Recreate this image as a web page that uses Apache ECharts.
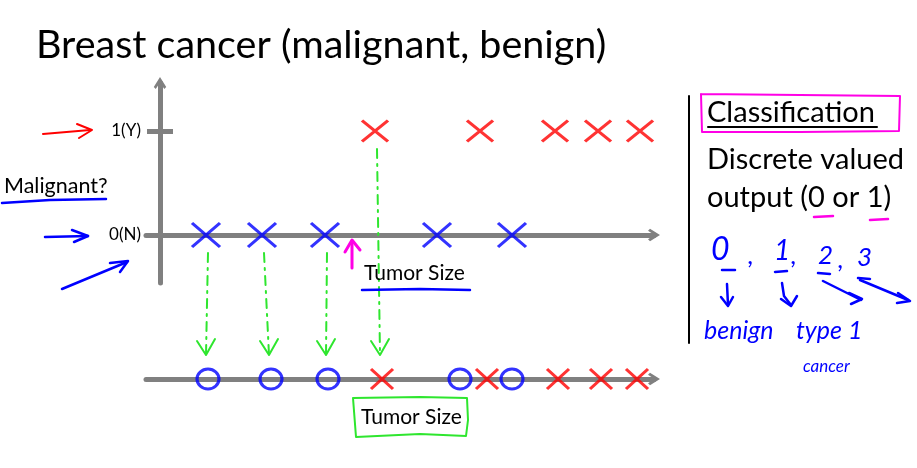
<html>
<head>
<meta charset="UTF-8" />
<script src="https://cdn.jsdelivr.net/npm/echarts@6/dist/echarts.min.js"></script>
<style>
  html, body { margin: 0; padding: 0; background: #fff; }
</style>
</head>
<body>
<div id="container" style="width: 917px; height: 468px"></div>
<script>
// tumor size readings (top chart), y = 0 benign, 1 malignant
var benignTop = [9.2, 20.4, 33, 55.4, 70.4];
var malignantTop = [43, 64, 79, 87.6, 96];
// same tumours re-drawn on the single 1-D axis below
var benignBottom = [9.6, 22.2, 33.6, 60, 70.4];
var malignantBottom = [44.4, 65.4, 79.6, 88.2, 95.4];
var yTickValues = [0, 1];
var yTickLabels = ['0(N)', '1(Y)'];
var thresholdX = 38.4;

var FONT = 'Lato';
var GRAY = '#808080';
var RED = '#ff0000';
var BLUE = '#0000ff';
var GREEN = '#2ee62e';
var PINK = '#ff00e6';

var CROSS = 'path://M0,0L10,10M10,0L0,10';
var CHEVRON = 'path://M5,0L10,8L8.4,9.6L5,4.4L1.6,9.6L0,8Z';

function pts(xs, y) {
    return xs.map(function (x) { return [x, y]; });
}

var chart = echarts.init(document.getElementById('container'));

var option = {
    animation: false,
    title: {
        text: 'Breast cancer (malignant, benign)',
        left: 31, top: 20,
        textStyle: { fontFamily: FONT, fontSize: 39.5, fontWeight: 'normal', color: '#000' }
    },
    grid: [
        { left: 146, right: 263, top: 83, bottom: 185 },
        { left: 146, right: 263, top: 359, bottom: 69 }
    ],
    xAxis: [
        {
            gridIndex: 0, type: 'value', min: -2.8, max: 98.8,
            axisLine: { onZero: true, symbol: ['none', CHEVRON], symbolSize: [18, 12], lineStyle: { color: GRAY, width: 5 } },
            axisTick: { show: false }, axisLabel: { show: false }, splitLine: { show: false }
        },
        {
            gridIndex: 1, type: 'value', min: -2.8, max: 98.8,
            axisLine: { onZero: true, symbol: ['none', CHEVRON], symbolSize: [18, 12], lineStyle: { color: GRAY, width: 5 } },
            axisTick: { show: false }, axisLabel: { show: false }, splitLine: { show: false }
        }
    ],
    yAxis: [
        {
            gridIndex: 0, type: 'value', min: -0.4615, max: 1.4615, position: 'left',
            axisLine: { onZero: true, onZeroAxisIndex: 0, symbol: ['none', CHEVRON], symbolSize: [18, 12], lineStyle: { color: GRAY, width: 5 } },
            axisTick: { show: true, customValues: [1], length: 13, lineStyle: { color: GRAY, width: 5 } },
            axisLabel: {
                customValues: yTickValues, margin: 5,
                fontFamily: FONT, fontSize: 17, color: '#000',
                formatter: function (v) { return yTickLabels[yTickValues.indexOf(v)]; }
            },
            splitLine: { show: false }
        },
        {
            gridIndex: 0, type: 'value', min: -0.4615, max: 1.4615, position: 'right',
            axisLine: { show: false, onZero: true, onZeroAxisIndex: 0 },
            axisTick: { show: true, customValues: [1], length: 13, lineStyle: { color: GRAY, width: 5 } },
            axisLabel: { show: false }, splitLine: { show: false }
        },
        {
            gridIndex: 1, type: 'value', min: -1, max: 1, show: false
        }
    ],
    series: [
        {
            type: 'scatter', xAxisIndex: 0, yAxisIndex: 0, data: pts(benignTop, 0),
            symbol: CROSS, symbolSize: [28, 24],
            itemStyle: { color: 'rgba(0,0,0,0)', borderColor: BLUE, borderWidth: 3 }, z: 5
        },
        {
            type: 'scatter', xAxisIndex: 0, yAxisIndex: 0, data: pts(malignantTop, 1),
            symbol: CROSS, symbolSize: [26, 21],
            itemStyle: { color: 'rgba(0,0,0,0)', borderColor: RED, borderWidth: 3 }, z: 5
        },
        {
            type: 'scatter', xAxisIndex: 1, yAxisIndex: 2, data: pts(benignBottom, 0),
            symbol: 'circle', symbolSize: [22, 20],
            itemStyle: { color: 'rgba(0,0,0,0)', borderColor: BLUE, borderWidth: 3 }, z: 5
        },
        {
            type: 'scatter', xAxisIndex: 1, yAxisIndex: 2, data: pts(malignantBottom, 0),
            symbol: CROSS, symbolSize: [22, 20],
            itemStyle: { color: 'rgba(0,0,0,0)', borderColor: RED, borderWidth: 3 }, z: 5
        }
    ]
};
chart.setOption(option);

// annotations, placed from the data positions
function toPx(seriesIndex, p) {
    return chart.convertToPixel({ seriesIndex: seriesIndex }, p);
}
function stroke(color, w, dash) {
    return { stroke: color, lineWidth: w || 2.5, fill: null, lineDash: dash || null, lineCap: 'round', lineJoin: 'round' };
}
function poly(points, color, w, dash) {
    return { type: 'polyline', shape: { points: points }, style: stroke(color, w, dash), z: 10 };
}
function txt(x, y, s, size, color, extra) {
    var st = { text: s, x: x, y: y, fontFamily: FONT, fontSize: size, fill: color || '#000', textVerticalAlign: 'middle' };
    for (var k in extra) st[k] = extra[k];
    return { type: 'text', style: st, z: 10 };
}

var g = [];
var DASH = [9, 6, 2, 6];

// green projections from the top chart down to the 1-D axis
var proj = [
    [toPx(0, [benignTop[0], 0]), toPx(2, [benignBottom[0], 0])],
    [toPx(0, [benignTop[1], 0]), toPx(2, [benignBottom[1], 0])],
    [toPx(0, [benignTop[2], 0]), toPx(2, [benignBottom[2], 0])],
    [toPx(1, [malignantTop[0], 1]), toPx(3, [malignantBottom[0], 0])]
];
proj.forEach(function (p) {
    var a = p[0], b = p[1];
    var x0 = a[0] + 2, y0 = a[1] + 18;
    var x1 = b[0] - 2, y1 = b[1] - 24;
    g.push(poly([[x0, y0], [x1, y1]], GREEN, 2, DASH));
    g.push(poly([[x1 - 9, y1 - 14], [x1, y1], [x1 + 9, y1 - 16]], GREEN, 2));
});

// magenta threshold arrow
var th = toPx(0, [thresholdX, 0]);
g.push(poly([[th[0], th[1] + 33], [th[0], th[1] + 6]], PINK, 3));
g.push(poly([[th[0] - 7, th[1] + 17], [th[0], th[1] + 5], [th[0] + 8, th[1] + 15]], PINK, 3));

// axis names
g.push(txt(364, 273, 'Tumor Size', 21, '#000'));
g.push(poly([[362, 290], [420, 289], [470, 290]], BLUE, 2.5));
g.push(txt(361, 417, 'Tumor Size', 21, '#000'));
g.push(poly([[353, 398], [420, 397], [467, 398], [468, 420], [466, 436], [420, 434], [356, 437], [353, 398]], GREEN, 2));

// left side
g.push(txt(4, 186, 'Malignant?', 21.5, '#000'));
g.push(poly([[2, 203], [50, 200], [106, 199]], BLUE, 2.5));
g.push(poly([[43, 134], [90, 130]], RED, 2));
g.push(poly([[77, 124], [92, 130], [79, 138]], RED, 2));
g.push(poly([[45, 237], [88, 236]], BLUE, 2.5));
g.push(poly([[72, 230], [88, 236], [74, 242]], BLUE, 2.5));
g.push(poly([[62, 289], [127, 262]], BLUE, 2.5));
g.push(poly([[110, 263], [128, 261], [120, 272]], BLUE, 2.5));

// right panel
g.push(poly([[689, 96], [689, 343]], '#000', 2));
g.push(poly([[701, 94], [800, 95], [900, 96], [899, 131], [800, 132], [702, 132], [701, 94]], PINK, 2));
g.push(txt(707, 113, 'Classification', 29, '#000'));
g.push(poly([[708, 127], [877, 127]], '#000', 2));
g.push(txt(707, 160, 'Discrete valued', 29, '#000'));
g.push(txt(707, 198, 'output (0 or 1)', 29, '#000'));
g.push(poly([[814, 217], [833, 216]], PINK, 2.5));
g.push(poly([[870, 220], [888, 219]], PINK, 2.5));

// handwritten classes
var HAND = { fontStyle: 'italic' };
g.push(txt(711, 250, '0', 32, BLUE, HAND));
g.push(txt(748, 256, ',', 26, BLUE, HAND));
g.push(txt(774, 251, '1', 28, BLUE, HAND));
g.push(txt(791, 256, ',', 26, BLUE, HAND));
g.push(txt(818, 256, '2', 26, BLUE, HAND));
g.push(txt(838, 260, ',', 26, BLUE, HAND));
g.push(txt(857, 258, '3', 26, BLUE, HAND));
g.push(poly([[722, 270], [735, 270]], BLUE, 2.5));
g.push(poly([[775, 272], [787, 271]], BLUE, 2.5));
g.push(poly([[818, 273], [830, 274]], BLUE, 2.5));
g.push(poly([[858, 278], [870, 279]], BLUE, 2.5));
g.push(poly([[727, 284], [728, 305]], BLUE, 2.5));
g.push(poly([[721, 297], [728, 306], [733, 297]], BLUE, 2.5));
g.push(poly([[782, 283], [784, 296], [791, 305]], BLUE, 2.5));
g.push(poly([[781, 299], [791, 306], [797, 296]], BLUE, 2.5));
g.push(poly([[823, 281], [861, 300]], BLUE, 2.5));
g.push(poly([[849, 293], [862, 299], [851, 304]], BLUE, 2.5));
g.push(poly([[860, 280], [908, 300]], BLUE, 2.5));
g.push(poly([[898, 293], [910, 301], [897, 303]], BLUE, 2.5));
g.push(txt(704, 331, 'benign', 25, BLUE, HAND));
g.push(txt(796, 331, 'type 1', 25, BLUE, HAND));
g.push(txt(803, 367, 'cancer', 17, BLUE, HAND));

chart.setOption({ graphic: g });
</script>
</body>
</html>
